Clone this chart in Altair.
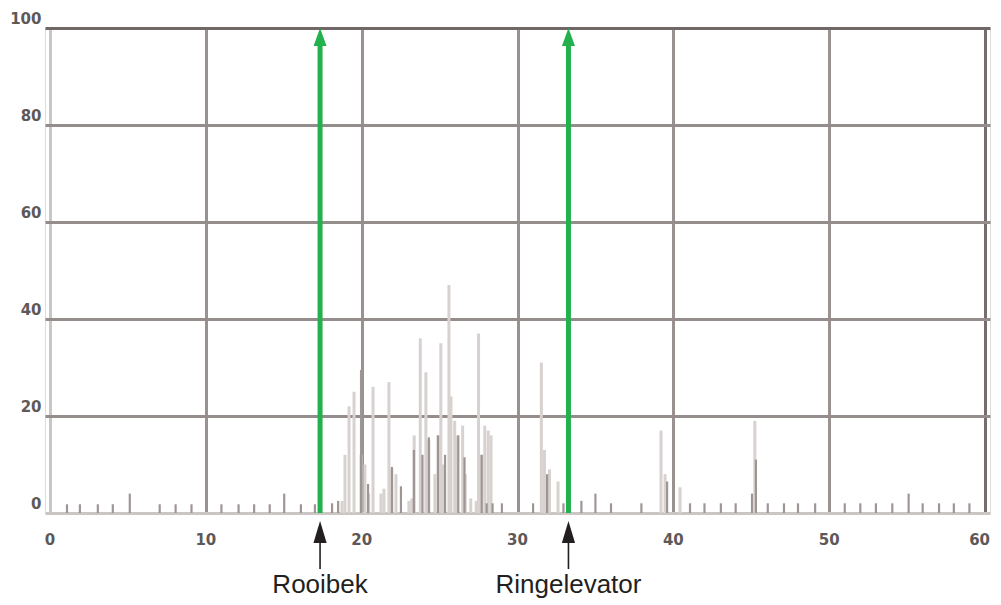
import altair as alt
import pandas as pd

# ---- data ----
light_x = [18.74, 18.93, 19.19, 19.51, 19.96, 20.21, 20.45, 20.73, 21.24, 21.43, 21.75, 21.94,
           22.20, 23.03, 23.22, 23.37, 23.76, 24.12, 24.31, 24.70, 24.90, 25.08, 25.22, 25.60,
           25.73, 25.97, 26.12, 26.48, 26.65, 27.00, 27.35, 27.50, 27.70, 27.90, 28.12, 28.30,
           31.53, 31.73, 32.05, 32.60,
           39.21, 39.47, 40.43, 45.23]
light_h = [2.5, 12, 22, 25, 12, 10, 4, 26, 4, 5, 27, 9,
           8, 2.5, 3, 16, 36, 29, 15, 8, 16, 35, 10, 47,
           24, 19, 16, 18, 8, 3, 2.5, 37, 12, 18, 17, 16,
           31, 13, 9, 6.5,
           17, 8, 5.3, 19]

dark_x = [1.09, 1.92, 3.07, 4.03, 5.12, 7.04, 8.06, 9.08, 11.0, 12.1, 13.1, 14.1, 15.03,
          16.1, 17.0, 18.1, 18.49, 19.96, 20.41, 21.94, 22.52, 23.35, 23.90, 24.31, 24.90,
          25.35, 26.20, 26.60, 27.70, 28.02, 28.40, 29.0, 31.0, 31.90, 32.95, 34.1, 35.0,
          36.0, 37.95, 39.60, 41.07, 42.0, 43.05, 44.0, 45.05, 45.30, 46.06, 47.1, 48.0,
          49.1, 51.0, 52.0, 53.0, 54.05, 55.1, 56.0, 57.05, 58.0, 59.0]
dark_h = [1.8, 1.8, 1.8, 1.8, 4, 1.8, 1.8, 1.8, 1.8, 1.8, 1.8, 1.8, 4,
          1.8, 1.8, 2, 2.5, 29.5, 6, 9.5, 5.5, 13, 12, 15.6, 16,
          12, 16, 11.5, 12, 2, 2, 2, 2, 8, 2, 2.5, 4,
          2, 2, 6.5, 2, 2, 2, 2, 4, 11, 2, 2, 2,
          2, 2, 2, 2, 2, 4, 2, 2, 2, 2]

marker_x = [17.33, 33.27]
marker_label = ["Rooibek", "Ringelevator"]

x_ticks = [0, 10, 20, 30, 40, 50, 60]
x_tick_labels = ["0", "10", "20", "30", "40", "50", "60"]
y_ticks = [0, 20, 40, 60, 80, 100]

# ---- styling ----
LIGHT = "#d7d1cf"
DARK = "#9e9695"
GREEN = "#22b14c"
TXT = "#231f20"
LBL = "#5e5858"
PLOT_H = 487  # plot height (total 590 - top 3 - label extent 18 - bottom 82)

xs = alt.Scale(domain=[0, 60], nice=False, zero=False)
ys = alt.Scale(domain=[0, 100], nice=False)

x_axis = alt.Axis(
    values=x_ticks, grid=True, domain=False, ticks=False, labels=False, title=None,
    tickSize=0, gridWidth=3,
    gridColor={"condition": [{"test": "datum.value === 0", "value": "#cbc5c3"},
                             {"test": "datum.value === 60", "value": "#746d6c"}],
               "value": "#9a9291"},
)
y_axis = alt.Axis(
    values=y_ticks, grid=True, domain=False, ticks=False, tickSize=0, title=None,
    gridWidth=3,
    gridColor={"condition": [{"test": "datum.value === 0", "value": "#cbc5c3"},
                             {"test": "datum.value === 100", "value": "#6f6867"}],
               "value": "#958d8c"},
    labelFont="DejaVu Sans", labelFontWeight="bold", labelFontSize=15,
    labelColor=LBL, labelPadding=4, labelBaseline="middle", labelOffset=-10,
    labelAlign="right", labelFlush=False,
)

light_df = pd.DataFrame({"x": light_x, "h": light_h})
dark_df = pd.DataFrame({"x": dark_x, "h": dark_h})
mk_df = pd.DataFrame({"x": marker_x, "label": marker_label})
tick_df = pd.DataFrame({"x": x_ticks, "t": x_tick_labels})

X = alt.X("x:Q", scale=xs, axis=x_axis)

light_bars = alt.Chart(light_df).mark_bar(size=3, color=LIGHT).encode(
    x=X, y=alt.Y("h:Q", scale=ys, axis=y_axis)
)
dark_bars = alt.Chart(dark_df).mark_bar(size=2.2, color=DARK).encode(
    x=X, y=alt.Y("h:Q", scale=ys, axis=y_axis)
)

green_line = alt.Chart(mk_df).mark_rule(color=GREEN, strokeWidth=5).encode(
    x=X, y=alt.datum(0), y2=alt.datum(97)
)
green_head = alt.Chart(mk_df).mark_point(
    shape="M0,0 L0.36,1 L-0.36,1 Z", size=1300, filled=True, color=GREEN,
    opacity=1, strokeWidth=0
).encode(x=X, y=alt.datum(100))

x_labels = alt.Chart(tick_df).transform_filter("datum.x < 60").mark_text(
    font="DejaVu Sans", fontWeight="bold", fontSize=15, color=LBL,
    baseline="top", align="center"
).encode(x=X, y=alt.value(PLOT_H + 18), text="t:N")
x_label_last = alt.Chart(tick_df).transform_filter("datum.x >= 60").mark_text(
    font="DejaVu Sans", fontWeight="bold", fontSize=15, color=LBL,
    baseline="top", align="right", dx=5
).encode(x=X, y=alt.value(PLOT_H + 18), text="t:N")

black_line = alt.Chart(mk_df).mark_rule(color=TXT, strokeWidth=1.6).encode(
    x=X, y=alt.value(PLOT_H + 22), y2=alt.value(PLOT_H + 54)
)
black_head = alt.Chart(mk_df).mark_point(
    shape="M0,0 L0.3,1 L-0.3,1 Z", size=1936, filled=True, color=TXT,
    opacity=1, strokeWidth=0
).encode(x=X, y=alt.value(PLOT_H + 6))

labels = alt.Chart(mk_df).mark_text(
    font="Liberation Sans", fontSize=26, color=TXT, baseline="alphabetic", align="center"
).encode(x=X, y=alt.value(PLOT_H + 78), text="label:N")

chart = alt.layer(
    light_bars, dark_bars, green_line, green_head, x_labels, x_label_last,
    black_line, black_head, labels
).properties(
    width=985, height=590,
    autosize=alt.AutoSizeParams(type="fit", contains="padding"),
    padding={"left": 1, "top": 3, "right": 3, "bottom": 82},
).configure_view(stroke=None).configure(background="white")

chart.save("out.html", embed_options={"renderer": "svg", "actions": False})
